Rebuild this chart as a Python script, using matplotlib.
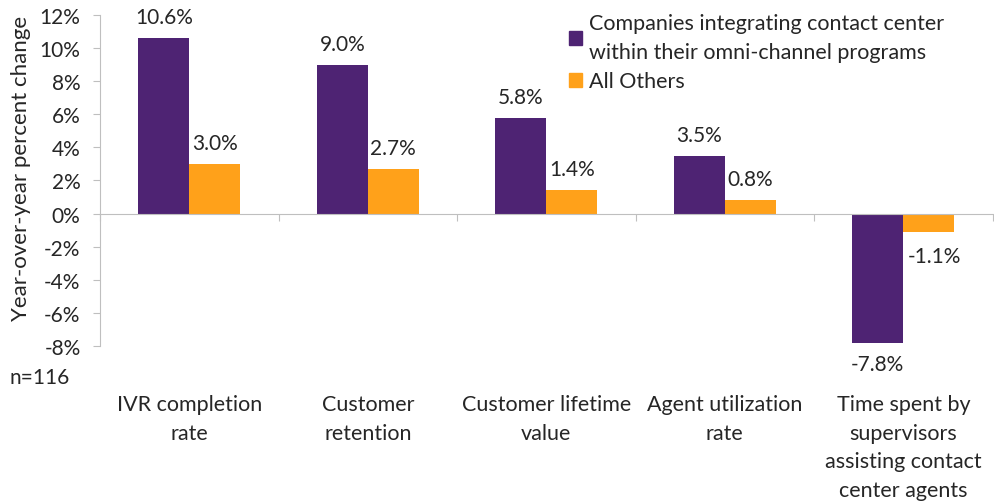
import numpy as np
import matplotlib.pyplot as plt
from matplotlib.patches import Patch

plt.rcParams['font.family'] = ['Lato', 'DejaVu Sans']

categories = ["IVR completion\nrate", "Customer\nretention", "Customer lifetime\nvalue",
              "Agent utilization\nrate", "Time spent by\nsupervisors\nassisting contact\ncenter agents"]
integrating = [10.6, 9.0, 5.8, 3.5, -7.8]
others = [3.0, 2.7, 1.4, 0.8, -1.1]
series_names = ["Companies integrating contact center\nwithin their omni-channel programs", "All Others"]
yticks = [-8, -6, -4, -2, 0, 2, 4, 6, 8, 10, 12]

purple = '#4E2373'
orange = '#FFA11A'
txt = '#262626'
grey = '#BFBFBF'
fs = 15

fig = plt.figure(figsize=(9.94, 5.02), dpi=100)
ax = fig.add_axes([0.1006, 0.309, 0.898, 0.659])

x = np.arange(len(categories))
w = 0.286
ax.bar(x - w / 2, integrating, w, color=purple)
ax.bar(x + w / 2, others, w, color=orange)

for xi, v in zip(x - w / 2, integrating):
    ax.annotate(f"{v:.1f}%", (xi, v), xytext=(0, 8 if v > 0 else -8),
                textcoords='offset points', ha='center',
                va='bottom' if v > 0 else 'top', fontsize=fs, color=txt)
for xi, v in zip(x + w / 2, others):
    ax.annotate(f"{v:.1f}%", (xi, v), xytext=(4 if v < 0 else 0, 8 if v > 0 else -10),
                textcoords='offset points', ha='center',
                va='bottom' if v > 0 else 'top', fontsize=fs, color=txt)

ax.set_xlim(-0.5, len(categories) - 0.5)
ax.set_ylim(-8, 12)
ax.set_yticks(yticks)
ax.set_yticklabels([f"{t}%" for t in yticks])
ax.tick_params(axis='y', direction='out', length=5, color=grey, labelsize=fs,
               labelcolor=txt, pad=9)

# category separators on the zero line
ax.spines['bottom'].set_position(('data', 0))
ax.set_xticks(np.arange(len(categories) + 1) - 0.5)
ax.set_xticklabels([])
ax.tick_params(axis='x', direction='out', length=5, color=grey)
for s in ['top', 'right']:
    ax.spines[s].set_visible(False)
for s in ['left', 'bottom']:
    ax.spines[s].set_color(grey)

for xi, c in zip(x, categories):
    ax.text(xi, -0.145, c, transform=ax.get_xaxis_transform(), ha='center', va='top',
            fontsize=15.5, color=txt, linespacing=1.55)

ax.set_ylabel("Year-over-year percent change", fontsize=16, color=txt)
ax.yaxis.set_label_coords(-0.077, 0.54)
fig.text(0.01, 0.247, "n=116", fontsize=fs, color=txt, va='center')

handles = [Patch(color=purple), Patch(color=orange)]
leg = ax.legend(handles, series_names, loc='upper left', bbox_to_anchor=(0.504, 1.065),
                frameon=False, fontsize=15.5, handlelength=0.6, handleheight=0.6,
                handletextpad=0.3, labelspacing=0.45, labelcolor=txt)
for t in leg.get_texts():
    t.set_linespacing(1.55)

fig.savefig("out.png", dpi=100)
